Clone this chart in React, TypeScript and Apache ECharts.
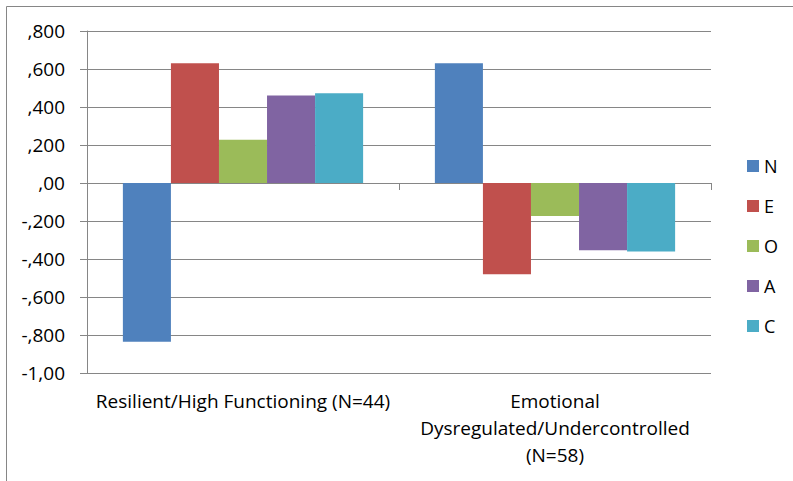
import React, { useEffect, useRef } from "react";
import * as echarts from "echarts";

const categories = [
  "Resilient/High Functioning (N=44)",
  "Emotional\nDysregulated/Undercontrolled\n(N=58)",
];
const seriesNames = ["N", "E", "O", "A", "C"];
const seriesColors = ["#4F81BD", "#C0504D", "#9BBB59", "#8064A2", "#4BACC6"];
const valuesN = [-0.835, 0.63];
const valuesE = [0.63, -0.48];
const valuesO = [0.228, -0.174];
const valuesA = [0.461, -0.354];
const valuesC = [0.472, -0.361];
const tickValues = [-1.0, -0.8, -0.6, -0.4, -0.2, 0, 0.2, 0.4, 0.6, 0.8];
const tickLabels = ["-1,00", "-,800", "-,600", "-,400", "-,200", ",00", ",200", ",400", ",600", ",800"];

const FONT = "Open Sans";
const GRAY = "#868686";

export default function App() {
  const ref = useRef<HTMLDivElement>(null);
  useEffect(() => {
    if (!ref.current) return;
    const chart = echarts.init(ref.current, null, { renderer: "svg" });
    const allValues = [valuesN, valuesE, valuesO, valuesA, valuesC];
    chart.setOption({
      animation: false,
      backgroundColor: "#ffffff",
      graphic: [
        {
          type: "rect",
          shape: { x: 6.5, y: 6.5, width: 820, height: 500 },
          style: { fill: "none", stroke: GRAY, lineWidth: 1 },
          silent: true,
        },
      ],
      grid: { left: 87, top: 31, right: 82, bottom: 108, containLabel: false },
      legend: {
        orient: "vertical",
        left: 747,
        top: 157,
        padding: 0,
        itemWidth: 12,
        itemHeight: 12,
        itemGap: 22,
        icon: "rect",
        data: seriesNames,
        textStyle: { fontFamily: FONT, fontSize: 18, lineHeight: 12, color: "#000", padding: [0, 0, 0, 0] },
      },
      xAxis: [
        {
          type: "category",
          data: categories,
          axisLine: { show: true, onZero: true, lineStyle: { color: GRAY, width: 1 } },
          axisTick: { show: true, length: 7, alignWithLabel: false, lineStyle: { color: GRAY } },
          axisLabel: { show: false },
          splitLine: { show: false },
        },
        {
          type: "category",
          position: "bottom",
          data: categories,
          axisLine: { show: false, onZero: false },
          axisTick: { show: false },
          axisLabel: {
            show: true,
            interval: 0,
            margin: 14,
            fontFamily: FONT,
            fontSize: 19,
            lineHeight: 27,
            color: "#000",
          },
          splitLine: { show: false },
        },
      ],
      yAxis: {
        type: "value",
        min: -1.0,
        max: 0.8,
        interval: 0.2,
        axisLine: { show: true, lineStyle: { color: GRAY, width: 1 } },
        axisTick: { show: true, length: 7, lineStyle: { color: GRAY } },
        splitLine: { show: true, lineStyle: { color: GRAY, width: 1 } },
        axisLabel: {
          margin: 22,
          fontFamily: FONT,
          fontSize: 19,
          color: "#000",
          formatter: (v: number) => {
            const i = tickValues.findIndex((t) => Math.abs(t - v) < 1e-6);
            return i >= 0 ? tickLabels[i] : "";
          },
        },
      },
      series: seriesNames.map((name, i) => ({
        name,
        type: "bar",
        xAxisIndex: 0,
        data: allValues[i],
        barGap: "0%",
        barCategoryGap: "23%",
        itemStyle: { color: seriesColors[i] },
      })),
    });
    return () => chart.dispose();
  }, []);
  return (
    <div
      ref={ref}
      style={{ position: "fixed", left: 0, top: 0, width: 793, height: 481 }}
    />
  );
}
